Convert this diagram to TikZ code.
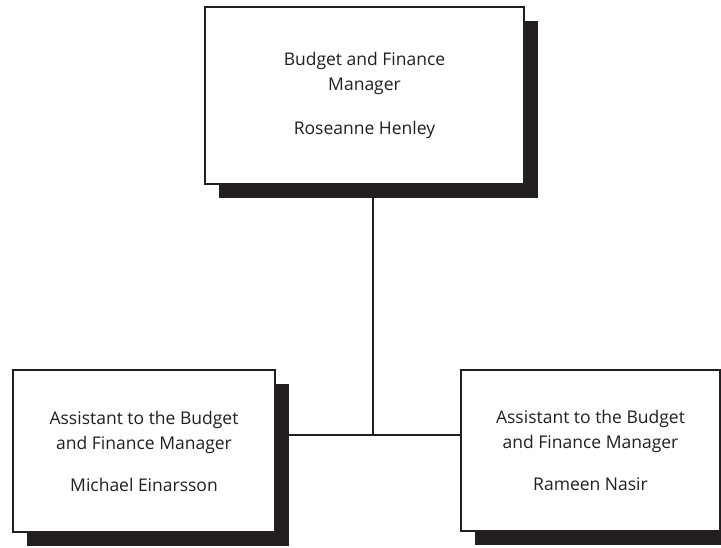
\documentclass[tikz,border=0pt]{standalone}
\usepackage{fontspec}
\setmainfont{Open Sans}
\usetikzlibrary{shadows, positioning, calc, backgrounds}
\definecolor{inkblack}{HTML}{231F20}

\begin{document}
\begin{tikzpicture}[x=1pt, y=-1pt, line join=miter,
    orgbox/.style={draw=inkblack, line width=1.6pt, fill=white, text=inkblack,
        align=center, inner sep=0pt,
        font=\fontsize{17.5}{25}\selectfont,
        drop shadow={shadow xshift=13.5pt, shadow yshift=-13.5pt, fill=inkblack, opacity=1}},
    link/.style={draw=inkblack, line width=1.6pt}]
    \clip (0,0) rectangle (721,547);

    \node[orgbox, minimum width=319pt, minimum height=177pt] (manager) at (364.5,95.5)
        {Budget and Finance\\Manager\\[19pt]Roseanne Henley};
    \node[orgbox, minimum width=262pt, minimum height=162pt] (assistA) at (144,451)
        {Assistant to the Budget\\and Finance Manager\\[17pt]Michael Einarsson};
    \node[orgbox, minimum width=259pt, minimum height=161pt] (assistB) at (590.5,450.5)
        {Assistant to the Budget\\and Finance Manager\\[17pt]Rameen Nasir};

    \coordinate (hub) at (373,435);

    % connectors go behind the boxes and their shadows
    \begin{scope}[on background layer]
        \draw[link] (manager.south -| hub) -- (hub);
        \draw[link] (assistA.east |- hub) -- (assistB.west |- hub);
    \end{scope}
\end{tikzpicture}
\end{document}
